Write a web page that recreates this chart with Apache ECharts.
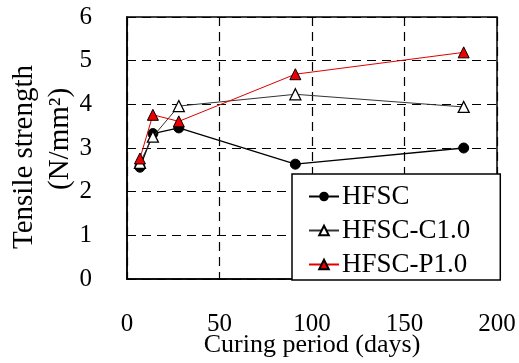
<!DOCTYPE html>
<html><head><meta charset="utf-8">
<script src="https://cdn.jsdelivr.net/npm/echarts@6/dist/echarts.min.js"></script>
<style>html,body{margin:0;padding:0;background:#fff}#c{width:519px;height:363px}</style>
</head><body><div id="c"></div>
<script>
const days = [7, 14, 28, 91, 182];
const hfsc = [2.56, 3.33, 3.46, 2.63, 3.0];
const hfscC = [2.66, 3.26, 3.96, 4.23, 3.94];
const hfscP = [2.76, 3.76, 3.61, 4.69, 5.19];
const xTicks = [0, 50, 100, 150, 200];
const yTicks = [0, 1, 2, 3, 4, 5, 6];
const names = ['HFSC', 'HFSC-C1.0', 'HFSC-P1.0'];

const F = 'Liberation Serif';
const pair = (ys) => days.map((d, i) => [d, ys[i]]);
const chart = echarts.init(document.getElementById('c'), null, {renderer: 'canvas'});
const dash = {type: [9, 6], color: '#000', width: 1.2};
chart.setOption({
  animation: false,
  backgroundColor: '#fff',
  grid: {left: 127, right: 22, top: 17, bottom: 84, show: true, borderColor: '#000', borderWidth: 1.5,
         containLabel: false, outerBoundsMode: 'none'},
  xAxis: {
    type: 'value', min: xTicks[0], max: xTicks[xTicks.length - 1], interval: 50,
    axisLine: {lineStyle: {color: '#000', width: 1.5}},
    axisTick: {inside: true, length: 5, lineStyle: {color: '#000'}},
    splitLine: {show: true, lineStyle: dash},
    axisLabel: {color: '#000', fontFamily: F, fontSize: 25, margin: 33},
    name: 'Curing period (days)', nameLocation: 'middle', nameGap: 53, nameMoveOverlap: false,
    nameTextStyle: {color: '#000', fontFamily: F, fontSize: 26}
  },
  yAxis: {
    type: 'value', min: yTicks[0], max: yTicks[yTicks.length - 1], interval: 1,
    axisLine: {lineStyle: {color: '#000', width: 1.5}},
    axisTick: {inside: true, length: 5, lineStyle: {color: '#000'}},
    splitLine: {show: true, lineStyle: dash},
    axisLabel: {color: '#000', fontFamily: F, fontSize: 25, margin: 35}
  },
  graphic: [
    {type: 'text', x: 10, y: 249, rotation: Math.PI / 2,
     style: {text: 'Tensile strength', font: '29px "Liberation Serif"', fill: '#000'}},
    {type: 'text', x: 46, y: 190, rotation: Math.PI / 2,
     style: {text: '(N/mm²)', font: '29px "Liberation Serif"', fill: '#000'}}
  ],
  legend: {
    orient: 'vertical', left: 292, top: 174, width: 196,
    backgroundColor: '#fff', borderColor: '#000', borderWidth: 1.5,
    padding: [9, 30, 2, 16], itemGap: 7, itemWidth: 30, itemHeight: 12,
    textStyle: {color: '#000', fontFamily: F, fontSize: 27, padding: [0, 0, 0, -2]},
    data: names
  },
  series: [
    {name: names[0], type: 'line', data: pair(hfsc), symbol: 'circle', symbolSize: 10,
     lineStyle: {color: '#000', width: 1.3}, itemStyle: {color: '#000', borderColor: '#000'}, z: 3},
    {name: names[1], type: 'line', data: pair(hfscC), symbol: 'triangle', symbolSize: 11,
     lineStyle: {color: '#333', width: 1}, itemStyle: {color: '#fff', borderColor: '#000', borderWidth: 1.3}, z: 4},
    {name: names[2], type: 'line', data: pair(hfscP), symbol: 'triangle', symbolSize: 11,
     lineStyle: {color: '#e00000', width: 1}, itemStyle: {color: '#ee0000', borderColor: '#000', borderWidth: 1}, z: 5}
  ]
});
</script></body></html>
